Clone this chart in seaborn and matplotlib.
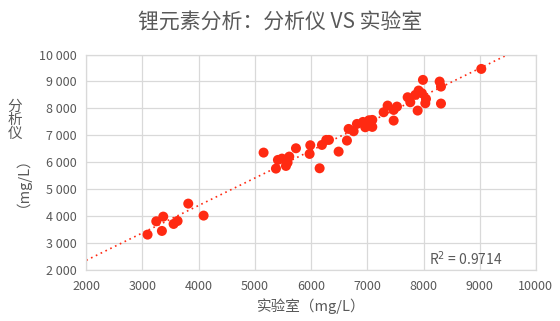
import numpy as np
import pandas as pd
import matplotlib
matplotlib.use("Agg")
import matplotlib.pyplot as plt
import seaborn as sns
from matplotlib.ticker import FuncFormatter

lab = [3091, 3246, 3370, 3346, 3554, 3625, 3815, 4088, 5155, 5375,
       5410, 5482, 5553, 5582, 5612, 5731, 5974, 5986, 6152, 6193,
       6270, 6318, 6490, 6638, 6668, 6757, 6816, 6923, 6964, 7030,
       7089, 7089, 7291, 7362, 7469, 7469, 7528, 7718, 7765, 7854,
       7913, 7896, 7972, 7990, 8044, 8032, 8287, 8311, 8311, 9028]
analyzer = [3313, 3808, 3981, 3449, 3709, 3820, 4464, 4019, 6359, 5765,
            6087, 6136, 5864, 5988, 6211, 6520, 6310, 6632, 5777, 6644,
            6830, 6830, 6396, 6805, 7238, 7152, 7424, 7498, 7300, 7560,
            7573, 7313, 7858, 8105, 7944, 7548, 8068, 8415, 8229, 8502,
            8663, 7920, 8563, 9059, 8353, 8192, 8997, 8811, 8180, 9467]

x_ticks = [2000, 3000, 4000, 5000, 6000, 7000, 8000, 9000, 10000]
y_ticks = [2000, 3000, 4000, 5000, 6000, 7000, 8000, 9000, 10000]

df = pd.DataFrame({"lab": lab, "analyzer": analyzer})

sns.set_style("white")
plt.rcParams["font.family"] = ["Noto Sans CJK SC", "DejaVu Sans"]

gray = "#595959"
red = "#ff2a12"

fig = plt.figure(figsize=(5.6, 3.21), dpi=100)
ax = fig.add_axes([0.154, 0.159, 0.803, 0.671])

# trend line from least squares fit
k, b = np.polyfit(df["lab"], df["analyzer"], 1)
xs = np.array([2000, 10000])
ax.plot(xs, k * xs + b, linestyle=(0, (1, 2.2)), color=red, linewidth=1.2, zorder=2)

sns.scatterplot(data=df, x="lab", y="analyzer", ax=ax, color=red, s=52,
                edgecolor="none", zorder=3)

ax.set_xlim(2000, 10000)
ax.set_ylim(2000, 10000)
ax.set_xticks(x_ticks)
ax.set_yticks(y_ticks)
ax.yaxis.set_major_formatter(FuncFormatter(lambda v, p: f"{int(v):,}".replace(",", " ")))
ax.grid(True, color="#d9d9d9", linewidth=0.9)
ax.set_axisbelow(True)
for s in ax.spines.values():
    s.set_color("#d9d9d9")
    s.set_linewidth(0.9)
ax.tick_params(axis="both", length=0, labelsize=9, labelcolor=gray)
ax.tick_params(axis="x", pad=7)
ax.tick_params(axis="y", pad=7)

ax.set_xlabel("实验室（mg/L）", fontsize=10.5, color=gray, labelpad=4)
ax.set_ylabel("")
fig.text(0.027, 0.625, "分\n析\n仪", fontsize=10.5, color=gray, ha="center", va="center",
         linespacing=0.92)
fig.text(0.027, 0.455, "（mg/L）", fontsize=10.5, color=gray, ha="center", va="center",
         rotation=90)

ax.text(0.925, 0.01, "R$^2$ = 0.9714", transform=ax.transAxes, fontsize=10,
        color=gray, ha="right", va="bottom")

fig.suptitle("锂元素分析：分析仪 VS 实验室", fontsize=15, color=gray, y=0.965)

fig.savefig("out.png", dpi=100)
